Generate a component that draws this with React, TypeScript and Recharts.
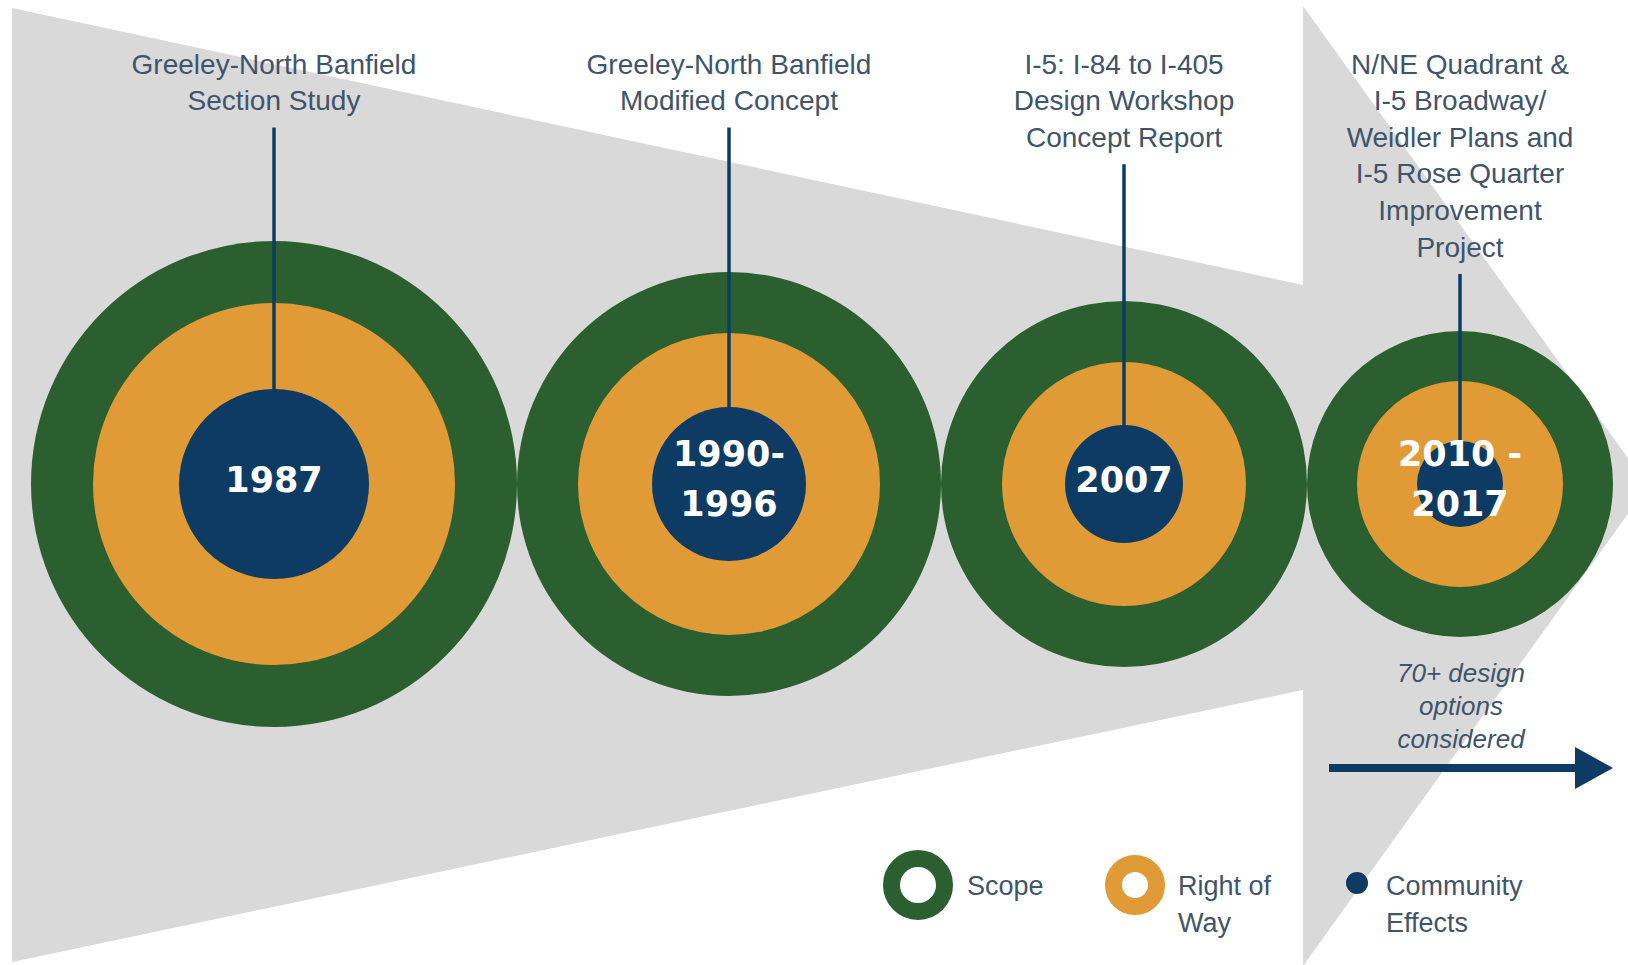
import { ComposedChart, Area, Scatter, XAxis, YAxis, Legend } from 'recharts';

const WIDTH = 1628;
const HEIGHT = 965;
const AXIS_Y = 484;
const FIRST_LEFT = 31;
const LABEL_TOP = 64;
const LINE_H = 36.6;

const GREEN = '#2b5f2f';
const ORANGE = '#e09b36';
const NAVY = '#0d3b63';
const GRAY = '#d9d9d9';
const TEXT = '#40546b';
const SANS = '"Liberation Sans", Arial, sans-serif';

const years = [['1987'], ['1990-', '1996'], ['2007'], ['2010 -', '2017']];
const studies = [
  ['Greeley-North Banfield', 'Section Study'],
  ['Greeley-North Banfield', 'Modified Concept'],
  ['I-5: I-84 to I-405', 'Design Workshop', 'Concept Report'],
  ['N/NE Quadrant &', 'I-5 Broadway/', 'Weidler Plans and', 'I-5 Rose Quarter', 'Improvement', 'Project'],
];
// ring sizes (radius, px)
const scope = [243, 212, 183, 153];
const rightOfWay = [181, 151, 122, 103];
const communityEffects = [95, 77, 59, 43];
const legendLabels = [['Scope'], ['Right of', 'Way'], ['Community', 'Effects']];
const noteLines = ['70+ design', 'options', 'considered'];

// grey funnel + arrow head behind the rings
const funnel = [
  { x: 12, band: [8, 962] },
  { x: 1303, band: [285, 690] },
];
const arrowHead = [
  { x: 1303, band: [6, 966] },
  { x: 1648, band: [486, 486] },
];

// rings sit side by side, each touching the next
let left = FIRST_LEFT;
const rows = scope.map((r, i) => {
  const x = left + r;
  left += 2 * r;
  return {
    x,
    y: AXIS_Y,
    scope: r,
    row: rightOfWay[i],
    ce: communityEffects[i],
    years: years[i],
    study: studies[i],
  };
});

const ScopeRing = (p: any) => <circle cx={p.cx} cy={p.cy} r={p.payload.scope} fill={GREEN} />;
const RowRing = (p: any) => <circle cx={p.cx} cy={p.cy} r={p.payload.row} fill={ORANGE} />;

const Core = (p: any) => {
  const { cx, cy, payload } = p;
  const lines: string[] = payload.study;
  const lineTop = LABEL_TOP + (lines.length - 1) * LINE_H + 27;
  const yl: string[] = payload.years;
  const yearY = yl.length === 1 ? [cy - 4] : [cy - 30, cy + 20];
  return (
    <g>
      <circle cx={cx} cy={cy} r={payload.ce} fill={NAVY} />
      <line x1={cx} x2={cx} y1={lineTop} y2={cy - payload.ce + 6} stroke={NAVY} strokeWidth={3.5} />
      {lines.map((t, k) => (
        <text key={k} x={cx} y={LABEL_TOP + k * LINE_H} textAnchor="middle" dominantBaseline="central"
          fontFamily={SANS} fontSize={28} fill={TEXT}>{t}</text>
      ))}
      {yl.map((t, k) => (
        <text key={'y' + k} x={cx} y={yearY[k]} textAnchor="middle" dominantBaseline="central"
          fontFamily='"DejaVu Sans", sans-serif' fontWeight="bold" fontSize={35} fill="#ffffff">{t}</text>
      ))}
    </g>
  );
};

const LegendBox = () => (
  <svg width={700} height={130}>
    <circle cx={58} cy={55} r={26.5} fill="none" stroke={GREEN} strokeWidth={17} />
    <circle cx={275} cy={55} r={21.5} fill="none" stroke={ORANGE} strokeWidth={17} />
    <circle cx={497} cy={53} r={11} fill={NAVY} />
    {[107, 318, 526].map((x, i) =>
      legendLabels[i].map((t, k) => (
        <text key={i + '-' + k} x={x} y={56 + k * 37} dominantBaseline="central" fontFamily={SANS} fontSize={27} fill={TEXT}>{t}</text>
      ))
    )}
  </svg>
);

export default function App() {
  return (
    <div style={{ position: 'absolute', left: 0, top: 0, width: WIDTH, height: HEIGHT, background: '#fff', overflow: 'hidden' }}>
      <ComposedChart width={WIDTH} height={HEIGHT} margin={{ top: 0, right: 0, bottom: 0, left: 0 }}>
        <XAxis type="number" dataKey="x" domain={[0, WIDTH]} allowDataOverflow hide />
        <YAxis type="number" dataKey="y" domain={[0, HEIGHT]} allowDataOverflow reversed hide />
        <Area data={funnel} dataKey="band" type="linear" fill={GRAY} fillOpacity={1} stroke="none" isAnimationActive={false} activeDot={false} />
        <Area data={arrowHead} dataKey="band" type="linear" fill={GRAY} fillOpacity={1} stroke="none" isAnimationActive={false} activeDot={false} />
        <Scatter data={rows} dataKey="y" shape={ScopeRing} isAnimationActive={false} />
        <Scatter data={rows} dataKey="y" shape={RowRing} isAnimationActive={false} />
        <Scatter data={rows} dataKey="y" shape={Core} isAnimationActive={false} />
        <Legend layout="horizontal" verticalAlign="middle" align="center"
          wrapperStyle={{ left: 860, top: 830, width: 700, height: 130 }} content={() => <LegendBox />} />
      </ComposedChart>
      <svg width={WIDTH} height={HEIGHT} style={{ position: 'absolute', left: 0, top: 0, pointerEvents: 'none' }}>
        {noteLines.map((t, k) => (
          <text key={k} x={1461} y={673 + k * 33} textAnchor="middle" dominantBaseline="central"
            fontFamily={SANS} fontStyle="italic" fontSize={26} fill={TEXT}>{t}</text>
        ))}
        <line x1={1329} x2={1580} y1={768} y2={768} stroke={NAVY} strokeWidth={8} />
        <polygon points="1575,747 1613,768 1575,789" fill={NAVY} />
      </svg>
    </div>
  );
}
